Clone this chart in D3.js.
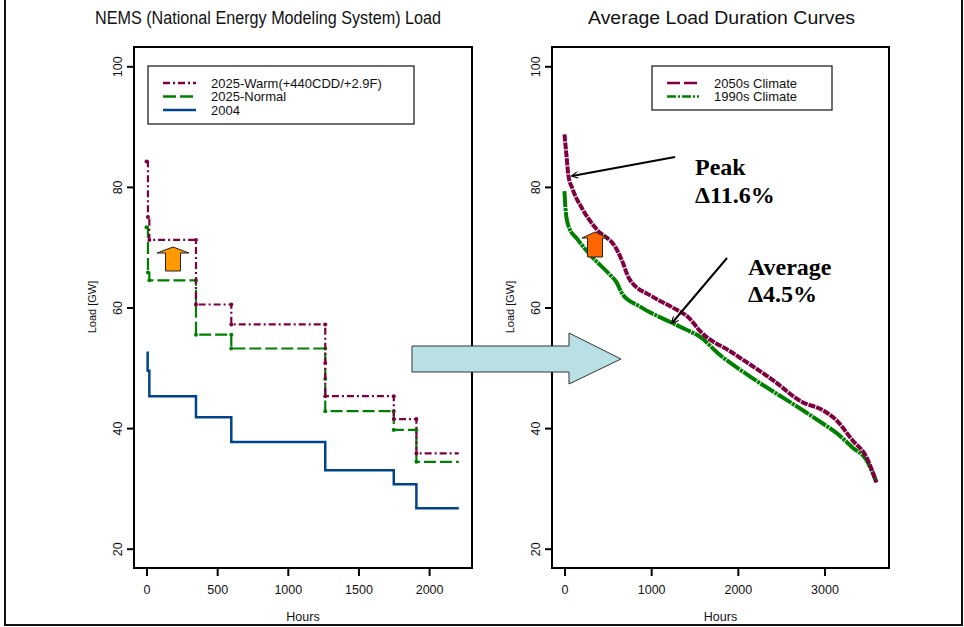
<!DOCTYPE html>
<html>
<head>
<meta charset="utf-8">
<script src="https://cdn.jsdelivr.net/npm/d3@7"></script>
<style>
  body { margin: 0; background: #fff; }
</style>
</head>
<body>
<svg id="chart" width="964" height="627" font-family="'Liberation Sans', Arial, sans-serif"></svg>
<script>
// ---- left panel: NEMS step load (hours, GW) ----
const blockStart = [20, 350, 600, 1265, 1750, 1910];
const blockEndHour = 2210;
const warmLevels = [71.2, 60.5, 57.2, 45.3, 41.5, 35.8];
const normalLevels = [64.5, 55.5, 53.2, 42.8, 39.7, 34.4];
const base2004Levels = [45.3, 41.8, 37.7, 33.0, 30.7, 26.7];
const warmPeak = [[0, 84.2], [10, 75.0]];
const normalPeak = [[0, 73.3], [10, 65.8]];
const base2004Peak = [[0, 52.5], [8, 49.5]];
const warmDropDots = [[1265, 50.8]];
const normalDropDots = [[1265, 48.2]];

// ---- right panel: load duration curves (hours, GW) ----
const climate2050 = [[0, 88.7], [23, 85.2], [46, 81.8], [92, 79.7], [208, 76.3], [369, 73.0],
  [600, 69.7], [657, 68.0], [750, 64.7], [1015, 61.8], [1246, 60.0], [1442, 58.2], [1557, 56.2],
  [1938, 52.5], [2400, 48.0], [2745, 44.3], [2976, 43.0], [3137, 41.3], [3322, 38.0],
  [3483, 35.2], [3600, 31.0]];
const climate1990 = [[0, 79.3], [12, 76.3], [46, 73.5], [150, 71.3], [311, 68.5], [519, 65.5],
  [600, 64.2], [669, 62.2], [865, 60.2], [1234, 57.5], [1407, 56.3], [1557, 55.2],
  [1788, 52.2], [2168, 48.3], [2745, 43.0], [2976, 40.8], [3137, 39.2], [3322, 36.8],
  [3483, 34.7], [3600, 31.0]];

const yTicks = [20, 40, 60, 80, 100];
const xTicksLeft = [0, 500, 1000, 1500, 2000];
const xTicksRight = [0, 1000, 2000, 3000];

const maroon = "#7f0040", green = "#008000", blue = "#00448a";

const svg = d3.select("#chart");

// outer frame (left, bottom, right)
svg.append("path")
  .attr("d", "M5,0 V625 H962 V0")
  .attr("fill", "none").attr("stroke", "#111").attr("stroke-width", 2);

function pad(lo, hi) { const p = (hi - lo) * 0.04; return [lo - p, hi + p]; }

const y = d3.scaleLinear().domain(pad(20, 100)).range([568, 47]);
const xL = d3.scaleLinear().domain(pad(0, 2215)).range([134, 472]);
const xR = d3.scaleLinear().domain(pad(0, 3600)).range([552, 889]);

function frame(x, ticks, title, titleX, titleW) {
  const [x0, x1] = x.range();
  const g = svg.append("g");
  g.append("rect").attr("x", x0).attr("y", 47).attr("width", x1 - x0).attr("height", 521)
    .attr("fill", "none").attr("stroke", "#000").attr("stroke-width", 2);

  const ax = g.append("g").attr("transform", "translate(0,568)")
    .call(d3.axisBottom(x).tickValues(ticks).tickSize(8).tickPadding(9).tickFormat(d3.format("d")));
  ax.select(".domain").remove();
  ax.selectAll("line").attr("stroke-width", 2);
  ax.selectAll("text").attr("font-size", 12.5).attr("fill", "#111");

  const ay = g.append("g").attr("transform", `translate(${x0},0)`)
    .call(d3.axisLeft(y).tickValues(yTicks).tickSize(7));
  ay.select(".domain").remove();
  ay.selectAll("line").attr("stroke-width", 2);
  ay.selectAll("text")
    .attr("x", null).attr("dy", null)
    .attr("transform", "translate(-12,0) rotate(-90)")
    .attr("text-anchor", "middle").attr("font-size", 12.5).attr("fill", "#111");
  ax.attr("font-family", null);
  ay.attr("font-family", null);

  g.append("text").attr("x", (x0 + x1) / 2).attr("y", 621).attr("text-anchor", "middle")
    .attr("font-size", 12.5).attr("fill", "#111").text("Hours");
  g.append("text").attr("transform", `translate(${x0 - 38},307) rotate(-90)`)
    .attr("text-anchor", "middle").attr("font-size", 11).attr("fill", "#111").text("Load [GW]");
  svg.append("text").attr("x", titleX).attr("y", 24).attr("font-size", 17.5)
    .attr("textLength", titleW).attr("lengthAdjust", "spacingAndGlyphs")
    .attr("fill", "#111").text(title);
}

frame(xL, xTicksLeft, "NEMS (National Energy Modeling System) Load", 95, 346);
frame(xR, xTicksRight, "Average Load Duration Curves", 588, 267);

// ---- left step series ----
function stepPoints(peak, levels) {
  const pts = peak.slice();
  levels.forEach((v, i) => pts.push([blockStart[i], v]));
  pts.push([blockEndHour, levels[levels.length - 1]]);
  return pts;
}
const stepLine = d3.line().x(d => xL(d[0])).y(d => y(d[1])).curve(d3.curveStepAfter);

const leftSeries = [
  {peak: base2004Peak, levels: base2004Levels, color: blue, dash: null, w: 2.5, dots: null},
  {peak: normalPeak, levels: normalLevels, color: green, dash: "12,4", w: 2.2, dots: normalDropDots},
  {peak: warmPeak, levels: warmLevels, color: maroon, dash: "7,3,2,3", w: 2.2, dots: warmDropDots}
];
leftSeries.forEach(s => {
  const pts = stepPoints(s.peak, s.levels);
  svg.append("path").datum(pts).attr("d", stepLine)
    .attr("fill", "none").attr("stroke", s.color).attr("stroke-width", s.w)
    .attr("stroke-dasharray", s.dash);
  if (s.dots) {
    // corner points of each step
    const corners = [];
    s.peak.forEach(p => corners.push(p));
    s.levels.forEach((v, i) => {
      if (i > 0) corners.push([blockStart[i], s.levels[i - 1]]);
      corners.push([blockStart[i], v]);
    });
    svg.append("g").selectAll("circle").data(corners.concat(s.dots)).join("circle")
      .attr("cx", d => xL(d[0])).attr("cy", d => y(d[1])).attr("r", 2).attr("fill", s.color);
  }
});

// ---- right duration curves ----
const curveLine = d3.line().x(d => xR(d[0])).y(d => y(d[1])).curve(d3.curveMonotoneX);
svg.append("path").datum(climate1990).attr("d", curveLine)
  .attr("fill", "none").attr("stroke", green).attr("stroke-width", 4)
  .attr("stroke-dasharray", "16,0.8,3,0.8");
svg.append("path").datum(climate2050).attr("d", curveLine)
  .attr("fill", "none").attr("stroke", maroon).attr("stroke-width", 4)
  .attr("stroke-dasharray", "7,1");

// ---- legends ----
function legend(x0, y0, w, h, items, sx, tx) {
  const g = svg.append("g");
  g.append("rect").attr("x", x0).attr("y", y0).attr("width", w).attr("height", h)
    .attr("fill", "#fff").attr("stroke", "#111").attr("stroke-width", 1.2);
  items.forEach((it, i) => {
    const yy = y0 + 17 + i * 13.5;
    g.append("line").attr("x1", sx[0]).attr("x2", sx[1]).attr("y1", yy).attr("y2", yy)
      .attr("stroke", it.color).attr("stroke-width", 2.5).attr("stroke-dasharray", it.dash);
    g.append("text").attr("x", tx).attr("y", yy + 4.5).attr("font-size", 13)
      .attr("fill", "#111").text(it.label);
  });
}
legend(148, 66, 266, 58, [
  {label: "2025-Warm(+440CDD/+2.9F)", color: maroon, dash: "7,3,2,3"},
  {label: "2025-Normal", color: green, dash: "13,4"},
  {label: "2004", color: blue, dash: null}
], [163, 196], 211);
legend(652, 66, 180, 44, [
  {label: "2050s Climate", color: maroon, dash: "13,4"},
  {label: "1990s Climate", color: green, dash: "9,2,2,2"}
], [667, 699], 714);

// ---- block arrows ----
function upArrow(cx, tipY, baseY, headW, shaftW, headH, fill) {
  const p = d3.path();
  p.moveTo(cx, tipY);
  p.lineTo(cx + headW / 2, tipY + headH);
  p.lineTo(cx + shaftW / 2, tipY + headH);
  p.lineTo(cx + shaftW / 2, baseY);
  p.lineTo(cx - shaftW / 2, baseY);
  p.lineTo(cx - shaftW / 2, tipY + headH);
  p.lineTo(cx - headW / 2, tipY + headH);
  p.closePath();
  svg.append("path").attr("d", p.toString()).attr("fill", fill)
    .attr("stroke", "#222").attr("stroke-width", 1);
}
upArrow(173, 247, 271, 32, 15, 6, "#ff9900");
upArrow(595, 232, 257, 26, 15, 6, "#ff6600");

const big = d3.path();
big.moveTo(412, 346); big.lineTo(569, 346); big.lineTo(569, 333); big.lineTo(621, 359);
big.lineTo(569, 384); big.lineTo(569, 372); big.lineTo(412, 372); big.closePath();
svg.append("path").attr("d", big.toString()).attr("fill", "#b9e0e4")
  .attr("stroke", "#333").attr("stroke-width", 1);

// ---- annotations ----
svg.append("defs").append("marker").attr("id", "ah").attr("viewBox", "0 0 10 10")
  .attr("refX", 9).attr("refY", 5).attr("markerWidth", 9).attr("markerHeight", 7)
  .attr("markerUnits", "userSpaceOnUse").attr("orient", "auto")
  .append("path").attr("d", "M0,0 L10,5 L0,10").attr("fill", "none")
  .attr("stroke", "#000").attr("stroke-width", 1.5);
svg.append("line").attr("x1", 675).attr("y1", 157).attr("x2", 572).attr("y2", 176)
  .attr("stroke", "#000").attr("stroke-width", 2).attr("marker-end", "url(#ah)");
svg.append("line").attr("x1", 727).attr("y1", 258).attr("x2", 672).attr("y2", 323)
  .attr("stroke", "#000").attr("stroke-width", 2).attr("marker-end", "url(#ah)");

const notes = [
  {x: 695, y: 175, t: "Peak"}, {x: 695, y: 203, t: "\u039411.6%"},
  {x: 748, y: 275, t: "Average"}, {x: 748, y: 302, t: "\u03944.5%"}
];
svg.append("g").selectAll("text").data(notes).join("text")
  .attr("x", d => d.x).attr("y", d => d.y).text(d => d.t)
  .attr("font-family", "'Liberation Serif', 'Times New Roman', serif")
  .attr("font-weight", "bold").attr("font-size", 24).attr("fill", "#000");
</script>
</body>
</html>
